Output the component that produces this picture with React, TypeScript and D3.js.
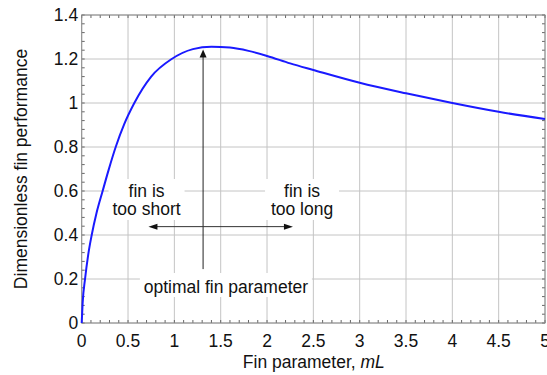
import React from "react";
import * as d3 from "d3";

const mL = [0, 0.01, 0.036, 0.07, 0.108, 0.16, 0.226, 0.29, 0.367, 0.46, 0.568, 0.75, 0.971, 1.2, 1.4, 1.6, 1.8, 2.0, 2.25, 2.5, 3.0, 3.5, 4.0, 4.5, 5.0];
const performance = [0, 0.09, 0.2, 0.31, 0.4, 0.5, 0.6, 0.695, 0.8, 0.905, 1.0, 1.12, 1.2, 1.245, 1.256, 1.252, 1.237, 1.214, 1.18, 1.15, 1.092, 1.044, 1.0, 0.96, 0.927];
const xTicks = [0, 0.5, 1, 1.5, 2, 2.5, 3, 3.5, 4, 4.5, 5];
const yTicks = [0, 0.2, 0.4, 0.6, 0.8, 1, 1.2, 1.4];

const W = 547, H = 375;
const left = 81.7, right = 545, top = 15, bottom = 323;
const FONT = "'Liberation Sans', Arial, sans-serif";
const FS = 17.5;

export default function App() {
  const x = d3.scaleLinear().domain([0, 5]).range([left, right]);
  const y = d3.scaleLinear().domain([0, 1.4]).range([bottom, top]);
  const pts = mL.map((v, i) => [v, performance[i]] as [number, number]);
  const line = d3.line<[number, number]>().x(d => x(d[0])).y(d => y(d[1])).curve(d3.curveMonotoneX);

  const xMinor = d3.range(0, 5.0001, 0.1);
  const yMinor = d3.range(0, 1.4001, 0.04);
  const tl = 3;

  // annotation geometry
  const optX = x(1.31);
  const arrowTop = y(1.243);
  const arrowBottom = y(0.245);
  const hY = y(0.438);
  const hL = x(0.72), hR = x(2.28);
  const shortCx = x(0.70);
  const longCx = x(2.378);
  const l1 = 196.5, l2 = 215;
  const optCx = x(1.556);
  const optBase = 292.5;

  const gridColor = "#c4c4c4";
  const frameColor = "#8a8a8a";

  return (
    <svg width={W} height={H} style={{ position: "absolute", left: 0, top: 0, background: "#fff" }} fontFamily={FONT}>
      <rect x={0} y={0} width={W} height={H} fill="#fff" />
      {/* grid */}
      {xTicks.map(t => (
        <line key={"gx" + t} x1={x(t)} x2={x(t)} y1={top} y2={bottom} stroke={gridColor} strokeWidth={1} />
      ))}
      {yTicks.map(t => (
        <line key={"gy" + t} x1={left} x2={right} y1={y(t)} y2={y(t)} stroke={gridColor} strokeWidth={1} />
      ))}
      {/* minor ticks */}
      {xMinor.map((t, i) => (
        <g key={"mx" + i}>
          <line x1={x(t)} x2={x(t)} y1={bottom} y2={bottom - tl} stroke="#666" strokeWidth={1} />
          <line x1={x(t)} x2={x(t)} y1={top} y2={top + tl} stroke="#666" strokeWidth={1} />
        </g>
      ))}
      {yMinor.map((t, i) => (
        <g key={"my" + i}>
          <line x1={left} x2={left + tl} y1={y(t)} y2={y(t)} stroke="#666" strokeWidth={1} />
          <line x1={right} x2={right - tl} y1={y(t)} y2={y(t)} stroke="#666" strokeWidth={1} />
        </g>
      ))}
      {/* frame */}
      <rect x={left} y={top} width={right - left} height={bottom - top} fill="none" stroke={frameColor} strokeWidth={1} />

      {/* text backgrounds */}
      <rect x={shortCx - 38} y={179} width={76} height={41} fill="#fff" />
      <rect x={longCx - 37} y={179} width={74} height={41} fill="#fff" />
      <rect x={optCx - 86} y={273} width={172} height={24} fill="#fff" />

      {/* curve */}
      <path d={line(pts) || ""} fill="none" stroke="#1a1aff" strokeWidth={2} />

      {/* vertical arrow */}
      <line x1={optX} x2={optX} y1={arrowBottom} y2={arrowTop + 6} stroke="#222" strokeWidth={1} />
      <path d={`M${optX},${arrowTop} L${optX - 3.5},${arrowTop + 8} L${optX + 3.5},${arrowTop + 8} Z`} fill="#111" />

      {/* horizontal double arrow */}
      <line x1={hL + 6} x2={hR - 6} y1={hY} y2={hY} stroke="#333" strokeWidth={1} />
      <path d={`M${hL},${hY} L${hL + 9},${hY - 3} L${hL + 9},${hY + 3} Z`} fill="#111" />
      <path d={`M${hR},${hY} L${hR - 9},${hY - 3} L${hR - 9},${hY + 3} Z`} fill="#111" />

      {/* annotation text */}
      <g fontSize={FS} fill="#111" textAnchor="middle">
        <text x={shortCx} y={l1}>fin is</text>
        <text x={shortCx} y={l2}>too short</text>
        <text x={longCx} y={l1}>fin is</text>
        <text x={longCx} y={l2}>too long</text>
        <text x={optCx} y={optBase}>optimal fin parameter</text>
      </g>

      {/* tick labels */}
      <g fontSize={FS} fill="#111">
        {xTicks.map(t => (
          <text key={"xl" + t} x={x(t)} y={bottom + 23.5} textAnchor="middle">{String(t)}</text>
        ))}
        {yTicks.map(t => (
          <text key={"yl" + t} x={left - 3.5} y={y(t) + 6} textAnchor="end">{String(t)}</text>
        ))}
      </g>

      {/* axis titles */}
      <text x={(left + right) / 2 + 0.5} y={368} fontSize={FS} fill="#111" textAnchor="middle">
        Fin parameter, <tspan fontStyle="italic">mL</tspan>
      </text>
      <text transform={`translate(27,169) rotate(-90)`} fontSize={FS} fill="#111" textAnchor="middle">
        Dimensionless fin performance
      </text>
    </svg>
  );
}
